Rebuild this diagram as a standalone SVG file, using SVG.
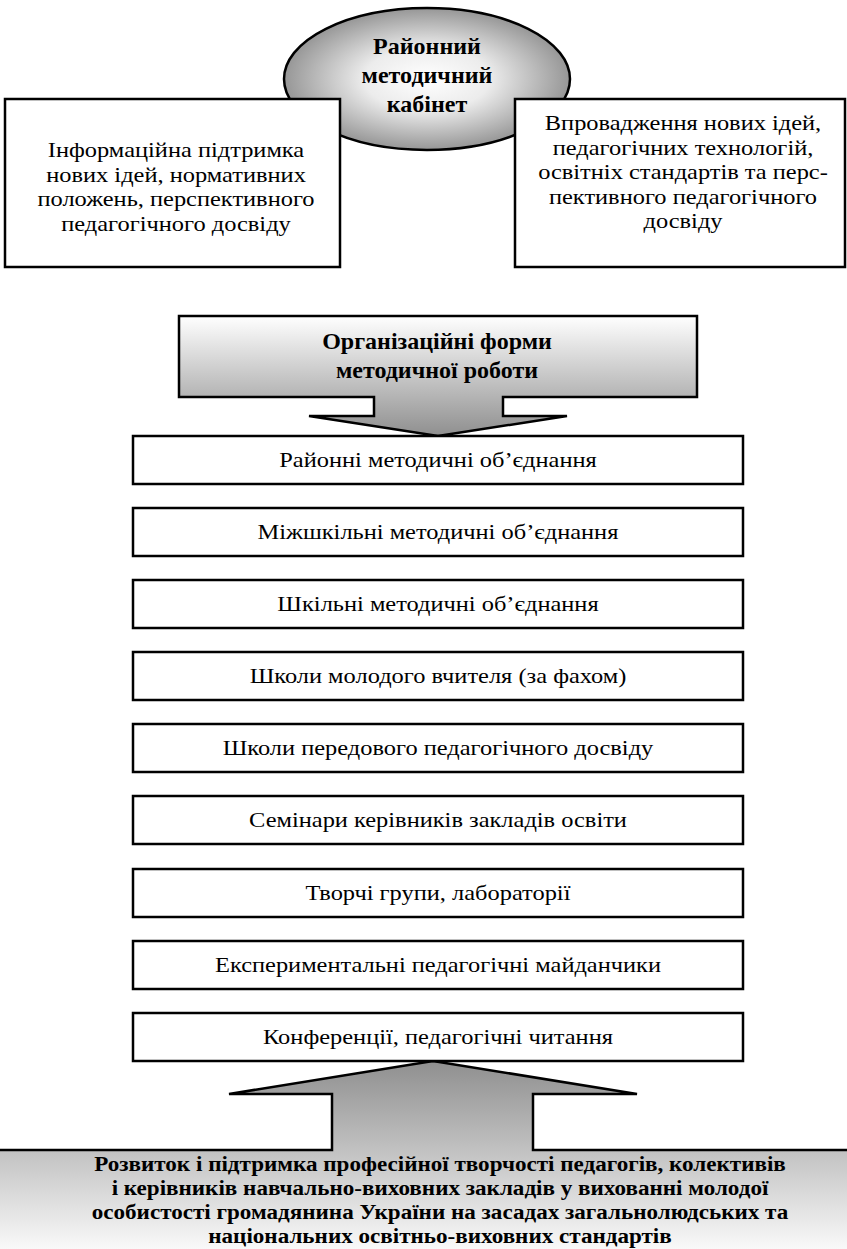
<svg xmlns="http://www.w3.org/2000/svg" width="847" height="1249" viewBox="0 0 847 1249">
<defs>
<radialGradient id="gEll" cx="50%" cy="50%" r="55%">
<stop offset="0" stop-color="#ffffff"/>
<stop offset="0.4" stop-color="#ececec"/>
<stop offset="1" stop-color="#878787"/>
</radialGradient>
<linearGradient id="gDown" x1="0" y1="0" x2="0" y2="1">
<stop offset="0" stop-color="#ffffff"/>
<stop offset="1" stop-color="#8f8f8f"/>
</linearGradient>
<linearGradient id="gUp" x1="0" y1="0" x2="0" y2="1">
<stop offset="0" stop-color="#8f8f8f"/>
<stop offset="1" stop-color="#fafafa"/>
</linearGradient>
<style>
.box{fill:#fff;stroke:#000;stroke-width:2.5}
.t{font-family:"Liberation Serif","Times New Roman",serif;font-size:22px;fill:#000;text-anchor:middle}
.b{font-family:"Liberation Serif","Times New Roman",serif;font-size:24px;font-weight:bold;fill:#000;text-anchor:middle}
.bb{font-family:"Liberation Serif","Times New Roman",serif;font-size:21px;font-weight:bold;fill:#000;text-anchor:middle}
</style>
</defs>
<rect width="847" height="1249" fill="#fff"/>
<g id="kabinet">
<ellipse cx="427" cy="79" rx="143" ry="71" fill="url(#gEll)" stroke="#000" stroke-width="2.5"/>
<text class="b" x="427" y="54">Районний</text>
<text class="b" x="427" y="83">методичний</text>
<text class="b" x="427" y="112">кабінет</text>
</g>
<g id="info">
<rect class="box" x="5" y="99" width="335" height="168"/>
<text class="t" transform="translate(176 157) scale(1.11 1)">Інформаційна підтримка</text>
<text class="t" transform="translate(176 181.5) scale(1.11 1)">нових ідей, нормативних</text>
<text class="t" transform="translate(176 206) scale(1.11 1)">положень, перспективного</text>
<text class="t" transform="translate(176 230.5) scale(1.11 1)">педагогічного досвіду</text>
</g>
<g id="vprovadzhennia">
<rect class="box" x="515" y="99" width="330" height="168"/>
<text class="t" transform="translate(683 130) scale(1.11 1)">Впровадження нових ідей,</text>
<text class="t" transform="translate(683 154.5) scale(1.11 1)">педагогічних технологій,</text>
<text class="t" transform="translate(683 179) scale(1.11 1)">освітніх стандартів та перс-</text>
<text class="t" transform="translate(683 203.5) scale(1.11 1)">пективного педагогічного</text>
<text class="t" transform="translate(683 228) scale(1.11 1)">досвіду</text>
</g>
<g id="connectors">
<polygon points="179,316 697,316 697,397 503,397 503,416 567,416 438,436 309,416 374,416 374,397 179,397" fill="url(#gDown)" stroke="#000" stroke-width="2.5"/>
<polygon points="-2,1150 332,1150 332,1094 229,1094 433,1061 637,1094 533,1094 533,1150 849,1150 849,1251 -2,1251" fill="url(#gUp)" stroke="#000" stroke-width="2.5"/>
</g>
<g id="orgformy">
<text class="b" x="437" y="349">Організаційні форми</text>
<text class="b" x="437" y="378">методичної роботи</text>
</g>
<g id="item1"><rect class="box" x="133" y="436" width="610" height="48"/><text class="t" transform="translate(438 467) scale(1.11 1)">Районні методичні об’єднання</text></g>
<g id="item2"><rect class="box" x="133" y="508" width="610" height="48"/><text class="t" transform="translate(438 539) scale(1.11 1)">Міжшкільні методичні об’єднання</text></g>
<g id="item3"><rect class="box" x="133" y="580" width="610" height="48"/><text class="t" transform="translate(438 611) scale(1.11 1)">Шкільні методичні об’єднання</text></g>
<g id="item4"><rect class="box" x="133" y="652" width="610" height="48"/><text class="t" transform="translate(438 683) scale(1.11 1)">Школи молодого вчителя (за фахом)</text></g>
<g id="item5"><rect class="box" x="133" y="724" width="610" height="48"/><text class="t" transform="translate(438 755) scale(1.11 1)">Школи передового педагогічного досвіду</text></g>
<g id="item6"><rect class="box" x="133" y="796" width="610" height="48"/><text class="t" transform="translate(438 827) scale(1.11 1)">Семінари керівників закладів освіти</text></g>
<g id="item7"><rect class="box" x="133" y="869" width="610" height="48"/><text class="t" transform="translate(438 900) scale(1.11 1)">Творчі групи, лабораторії</text></g>
<g id="item8"><rect class="box" x="133" y="941" width="610" height="48"/><text class="t" transform="translate(438 972) scale(1.11 1)">Експериментальні педагогічні майданчики</text></g>
<g id="item9"><rect class="box" x="133" y="1013" width="610" height="48"/><text class="t" transform="translate(438 1044) scale(1.11 1)">Конференції, педагогічні читання</text></g>
<g id="rozvytok">
<text class="bb" transform="translate(440 1171) scale(1.1 1)">Розвиток і підтримка професійної творчості педагогів, колективів</text>
<text class="bb" transform="translate(440 1195) scale(1.1 1)">і керівників навчально-виховних закладів у вихованні молодої</text>
<text class="bb" transform="translate(440 1219) scale(1.1 1)">особистості громадянина України на засадах загальнолюдських та</text>
<text class="bb" transform="translate(440 1243) scale(1.1 1)">національних освітньо-виховних стандартів</text>
</g>
</svg>
